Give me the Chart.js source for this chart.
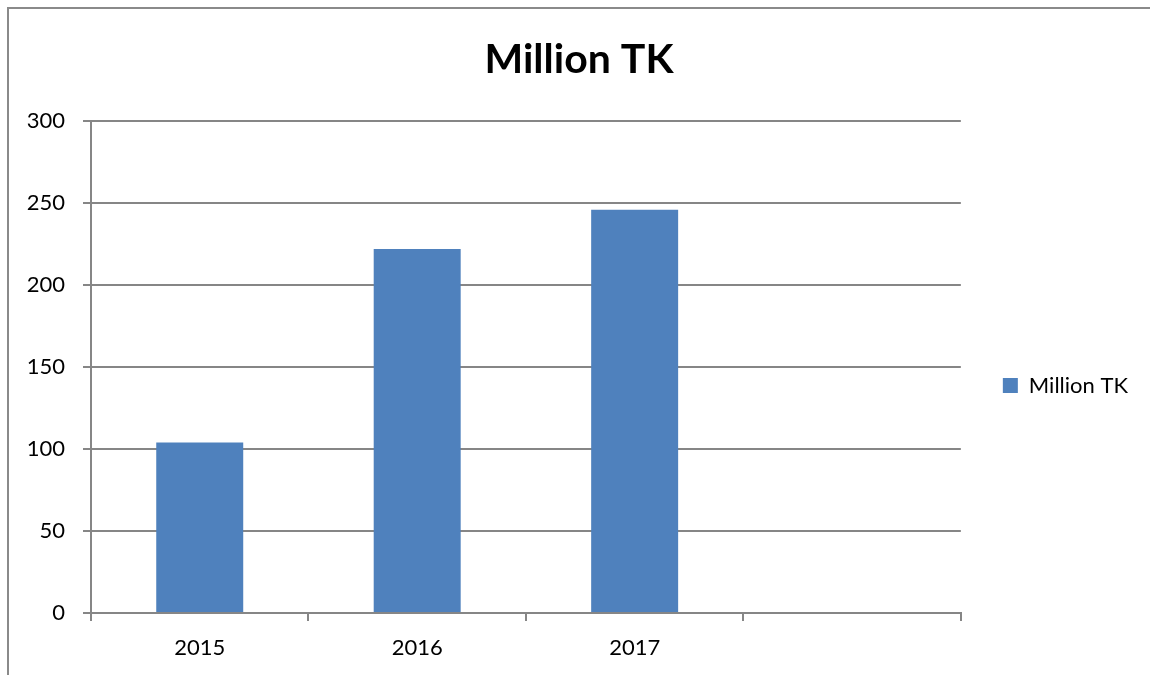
<!DOCTYPE html>
<html>
<head>
<meta charset="utf-8">
<script src="https://cdn.jsdelivr.net/npm/chart.js@4/dist/chart.umd.min.js"></script>
<style>
  html, body { margin: 0; padding: 0; background: #ffffff; }
  #wrap { width: 1150px; height: 675px; position: relative; }
</style>
</head>
<body>
<div id="wrap"><canvas id="c" width="1150" height="675"></canvas></div>
<script>
// Yearly totals in million taka; the fourth slot is an empty category
const years = ['2015', '2016', '2017', ''];
const millionTk = [104, 222, 246, null];
const seriesName = 'Million TK';
const yTicks = [0, 50, 100, 150, 200, 250, 300];

const AXIS_GRAY = '#868686';
const BAR_BLUE = '#4F81BD';
const FONT = 'Lato, "DejaVu Sans", sans-serif';

// Thin gray frame around the chart (left and top edges visible)
const framePlugin = {
  id: 'frame',
  beforeDraw(chart) {
    const ctx = chart.ctx;
    ctx.save();
    ctx.fillStyle = '#ffffff';
    ctx.fillRect(0, 0, chart.width, chart.height);
    ctx.strokeStyle = '#8a8a8a';
    ctx.lineWidth = 2;
    ctx.beginPath();
    ctx.moveTo(8, chart.height);
    ctx.lineTo(8, 8);
    ctx.lineTo(chart.width, 8);
    ctx.stroke();
    ctx.restore();
  }
};

new Chart(document.getElementById('c'), {
  type: 'bar',
  data: {
    labels: years,
    datasets: [{
      label: seriesName,
      data: millionTk,
      backgroundColor: BAR_BLUE,
      borderColor: BAR_BLUE,
      borderWidth: 0,
      categoryPercentage: 1.0,
      barPercentage: 0.4
    }]
  },
  options: {
    responsive: false,
    animation: false,
    devicePixelRatio: 1,
    layout: { padding: { left: 20, right: 12, top: 0, bottom: 0 } },
    plugins: {
      title: {
        display: true,
        text: seriesName,
        color: '#000000',
        font: { family: FONT, size: 41, weight: 'bold' },
        padding: { top: 35, bottom: 37 }
      },
      legend: {
        display: true,
        position: 'right',
        align: 'center',
        // blank legend title used as a spacer so the entry sits lower
        title: {
          display: true,
          text: ' ',
          font: { family: FONT, size: 1 },
          padding: { top: 95, bottom: 0 }
        },
        labels: {
          color: '#000000',
          font: { family: FONT, size: 22 },
          boxWidth: 15,
          boxHeight: 15,
          padding: 42
        }
      },
      tooltip: { enabled: false }
    },
    scales: {
      x: {
        offset: true,
        grid: {
          offset: true,
          drawOnChartArea: false,
          drawTicks: true,
          tickLength: 8,
          color: AXIS_GRAY,
          lineWidth: 2
        },
        border: { display: true, color: AXIS_GRAY, width: 2 },
        ticks: {
          color: '#000000',
          font: { family: FONT, size: 22 },
          padding: 14,
          maxRotation: 0
        },
        afterFit(scale) { scale.height = 62; }
      },
      y: {
        min: 0,
        max: 300,
        afterBuildTicks(scale) { scale.ticks = yTicks.map(v => ({ value: v })); },
        grid: {
          color: AXIS_GRAY,
          lineWidth: 2,
          drawTicks: true,
          tickLength: 8
        },
        border: { display: true, color: AXIS_GRAY, width: 2 },
        ticks: {
          color: '#000000',
          font: { family: FONT, size: 22 },
          padding: 18
        },
        afterFit(scale) { scale.width = 71; }
      }
    }
  },
  plugins: [framePlugin]
});
</script>
</body>
</html>
